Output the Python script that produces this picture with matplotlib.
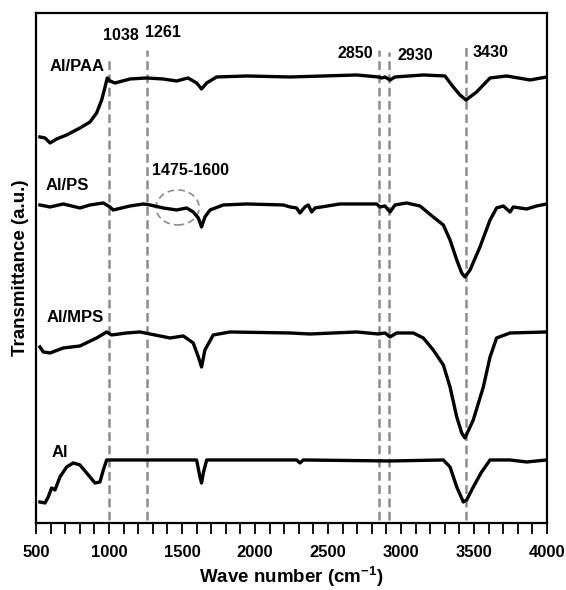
import matplotlib
matplotlib.use("Agg")
import matplotlib.pyplot as plt
from matplotlib.patches import Ellipse
from matplotlib.ticker import MultipleLocator, NullLocator

plt.rcParams['font.family'] = ['Liberation Sans', 'DejaVu Sans']
plt.rcParams['font.weight'] = 'bold'
plt.rcParams['mathtext.fontset'] = 'custom'
plt.rcParams['mathtext.rm'] = 'Liberation Sans:bold'
plt.rcParams['mathtext.bf'] = 'Liberation Sans:bold'

# ---- data (wave number, offset transmittance in arbitrary units) ----
paa_x = [527, 562, 596, 641, 710, 801, 870, 915, 950, 973, 988, 1007, 1041, 1144, 1258, 1370,
         1463, 1541, 1600, 1634, 1669, 1737, 1943, 2240, 2468, 2696, 2845, 2868, 2890, 2925,
         2959, 3153, 3301, 3358, 3404, 3445, 3518, 3610, 3724, 3884, 3998]
paa_y = [386, 385, 380, 384, 388, 395, 401, 410, 423, 436, 445, 442, 440, 444, 445, 444,
         442, 445, 440, 434, 440, 446, 447, 446, 447, 448, 446, 445, 446, 443,
         446, 448, 447, 436, 428, 423, 431, 445, 447, 443, 446]

ps_x = [527, 596, 687, 801, 870, 961, 1007, 1029, 1144, 1235, 1281, 1372, 1463, 1532, 1577,
        1612, 1634, 1657, 1692, 1783, 1943, 2194, 2240, 2285, 2308, 2342, 2365, 2388, 2411,
        2582, 2833, 2856, 2890, 2925, 2959, 3038, 3130, 3221, 3290, 3336, 3382, 3416, 3438,
        3473, 3541, 3610, 3655, 3701, 3747, 3769, 3861, 3929, 3998]
ps_y = [318, 316, 319, 315, 318, 320, 316, 313, 317, 319, 318, 315, 313, 315, 311,
        305, 296, 306, 313, 318, 319, 318, 316, 315, 310, 316, 318, 311, 315,
        319, 319, 316, 317, 311, 318, 320, 317, 306, 298, 283, 263, 250, 246,
        253, 276, 303, 315, 317, 311, 316, 314, 317, 319]

mps_x = [527, 550, 596, 687, 801, 915, 984, 1018, 1121, 1212, 1281, 1418, 1509, 1577, 1612,
         1634, 1657, 1714, 1829, 2240, 2377, 2696, 2845, 2890, 2925, 2970, 3084, 3153, 3221,
         3290, 3336, 3382, 3416, 3438, 3495, 3564, 3610, 3655, 3747, 3998]
mps_y = [176, 171, 170, 175, 177, 185, 191, 188, 190, 191, 189, 185, 187, 180, 166,
         156, 173, 188, 191, 190, 189, 191, 189, 190, 186, 190, 190, 185, 173,
         158, 136, 106, 90, 85, 103, 136, 166, 185, 190, 191]

al_x = [527, 562, 584, 607, 630, 664, 710, 755, 801, 847, 904, 938, 961, 984, 1018, 1144,
        1486, 1600, 1623, 1634, 1646, 1669, 2285, 2308, 2330, 2925, 3290, 3336, 3382, 3427,
        3450, 3495, 3552, 3610, 3747, 3861, 3998]
al_y = [21, 20, 26, 35, 33, 46, 56, 60, 58, 50, 40, 41, 53, 63, 63, 63,
        63, 63, 46, 40, 50, 63, 63, 60, 63, 62, 63, 56, 36, 21,
        23, 36, 51, 63, 63, 61, 63]

trace_labels = ['Al/PAA', 'Al/PS', 'Al/MPS', 'Al']
label_pos = [(784, 456), (716, 337), (767, 205), (664, 70)]

peak_x = [1003, 1262, 2851, 2918, 3443]
peak_top = [466, 473, 473, 471, 476]
peak_labels = ['1038', '1261', '2850', '2930', '3430']
peak_label_pos = [(1080, 487), (1372, 490), (2685, 469), (3098, 467), (3616, 470)]

region_label = '1475-1600'
region_center = (1470, 315.5)
region_size = (295, 35)
region_label_pos = (1561, 352)

# ---- figure ----
fig = plt.figure(figsize=(5.66, 5.90), dpi=100)
ax = fig.add_axes([0.0636, 0.1136, 0.9028, 0.8644])

for xs, ys in [(paa_x, paa_y), (ps_x, ps_y), (mps_x, mps_y), (al_x, al_y)]:
    ax.plot(xs, ys, color='black', lw=2.4, solid_joinstyle='round', zorder=3)

for px, top in zip(peak_x, peak_top):
    ax.plot([px, px], [3, top], color='#8c8c8c', lw=1.8,
            linestyle=(0, (3.5, 1.8)), zorder=2)

for lab, (lx, ly) in zip(peak_labels, peak_label_pos):
    ax.text(lx, ly, lab, ha='center', va='center', fontsize=11.5, fontweight='bold')

for lab, (lx, ly) in zip(trace_labels, label_pos):
    ax.text(lx, ly, lab, ha='center', va='center', fontsize=12, fontweight='bold')

ax.add_patch(Ellipse(region_center, region_size[0], region_size[1], fill=False,
                     edgecolor='#8c8c8c', lw=1.2, linestyle=(0, (4, 2.5)), zorder=2))
ax.text(region_label_pos[0], region_label_pos[1], region_label, ha='center', va='center',
        fontsize=11.5, fontweight='bold')

ax.set_xlim(500, 4000)
ax.set_ylim(0, 510)
ax.xaxis.set_major_locator(MultipleLocator(500))
ax.xaxis.set_minor_locator(MultipleLocator(100))
ax.yaxis.set_major_locator(NullLocator())
ax.tick_params(axis='x', which='both', direction='out', length=8, width=1.3, pad=8,
               labelsize=12)
for sp in ax.spines.values():
    sp.set_linewidth(1.6)

ax.set_xlabel(r'Wave number (cm$^{-1}$)', fontsize=13.5, fontweight='bold', labelpad=3)
ax.set_ylabel('Transmittance (a.u.)', fontsize=13.5, fontweight='bold', labelpad=5)

fig.savefig('out.png', dpi=100)
